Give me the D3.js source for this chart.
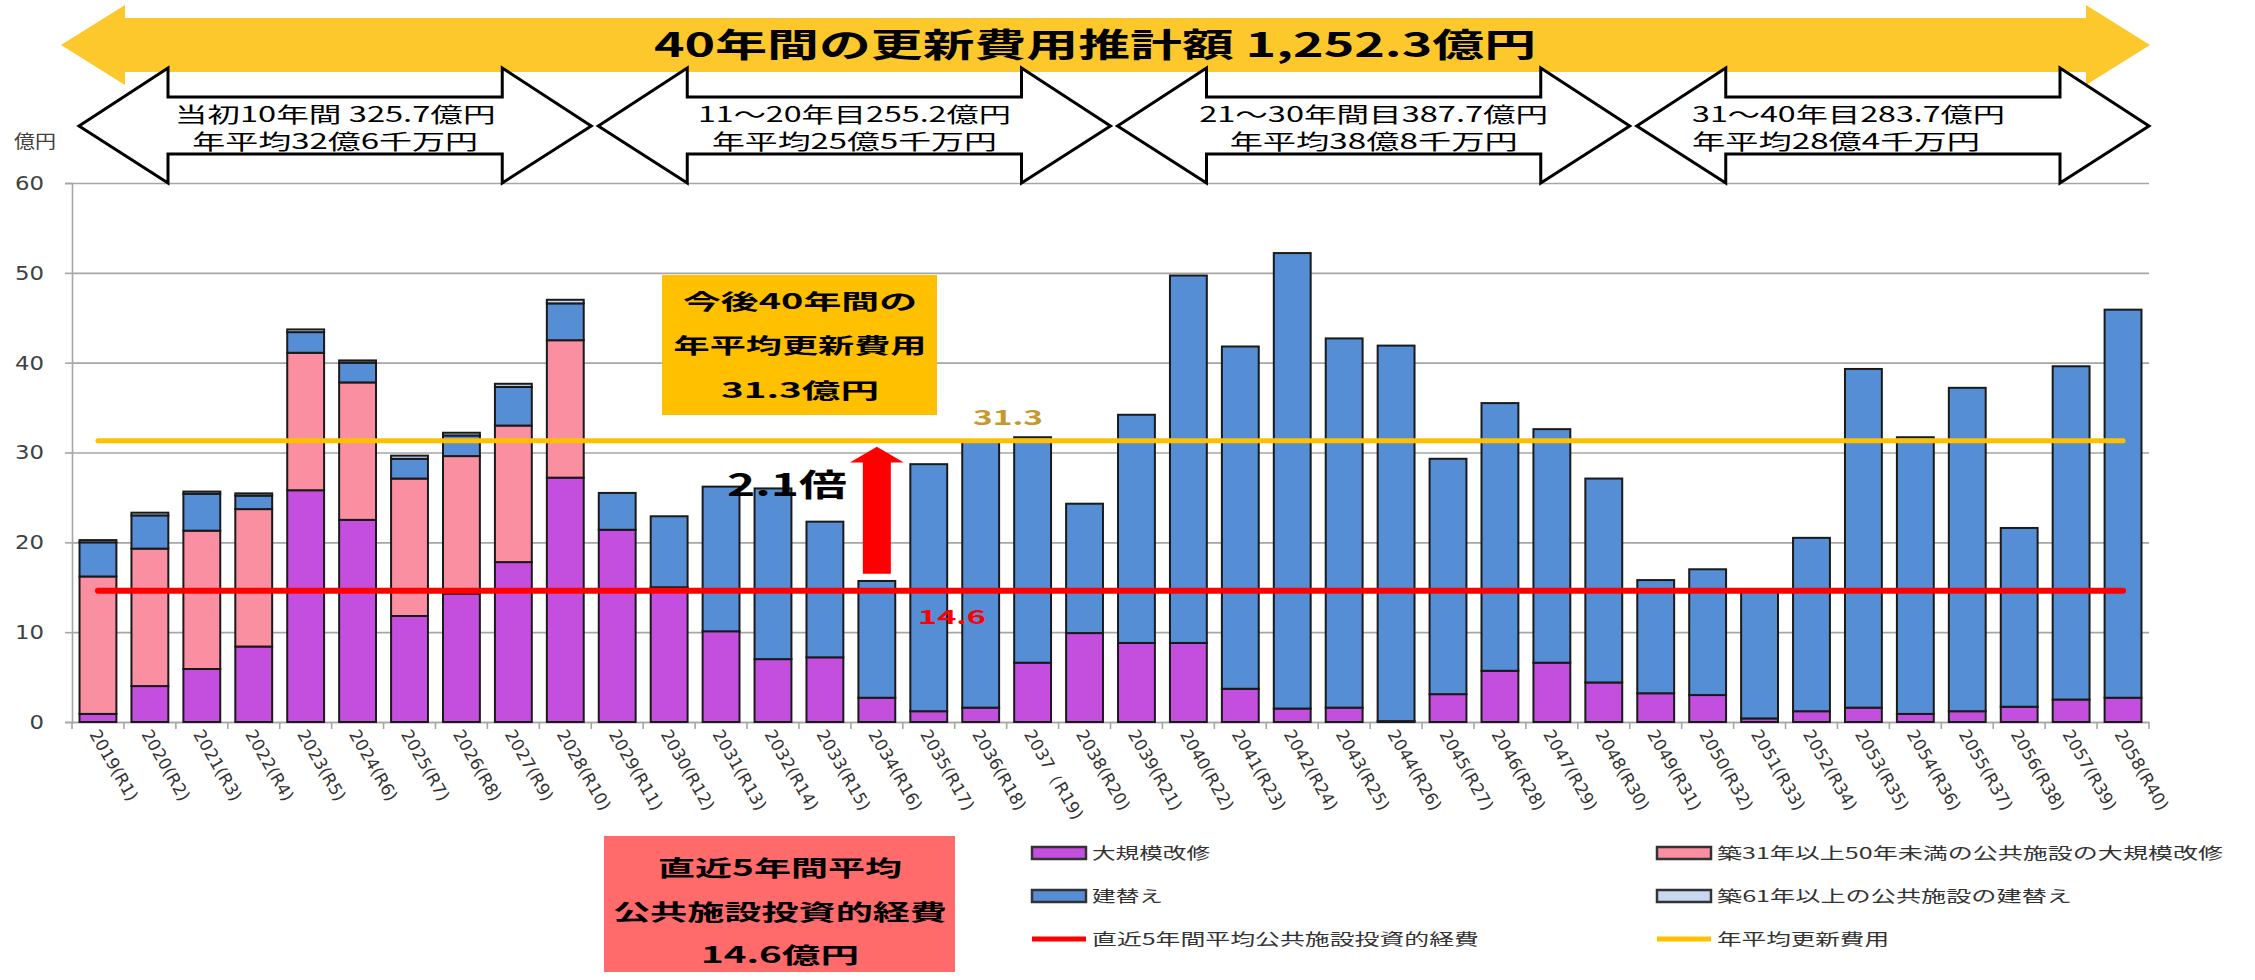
<!DOCTYPE html>
<html>
<head>
<meta charset="utf-8">
<script src="https://cdn.jsdelivr.net/npm/d3@7"></script>
<style>
  body { margin: 0; background: #fff; }
  text { font-family: "Noto Sans CJK JP", "Noto Sans", sans-serif; }
</style>
</head>
<body>
<div id="chart"></div>
<script>
// years on the x axis
var years = ["2019(R1)", "2020(R2)", "2021(R3)", "2022(R4)", "2023(R5)", "2024(R6)", "2025(R7)", "2026(R8)", "2027(R9)", "2028(R10)",
  "2029(R11)", "2030(R12)", "2031(R13)", "2032(R14)", "2033(R15)", "2034(R16)", "2035(R17)", "2036(R18)", "2037（R19)", "2038(R20)",
  "2039(R21)", "2040(R22)", "2041(R23)", "2042(R24)", "2043(R25)", "2044(R26)", "2045(R27)", "2046(R28)", "2047(R29)", "2048(R30)",
  "2049(R31)", "2050(R32)", "2051(R33)", "2052(R34)", "2053(R35)", "2054(R36)", "2055(R37)", "2056(R38)", "2057(R39)", "2058(R40)"];

// 大規模改修
var largeRepair = [0.9, 4.0, 5.9, 8.4, 25.8, 22.5, 11.8, 14.3, 17.8, 27.2,
  21.4, 15.0, 10.1, 7.0, 7.2, 2.7, 1.2, 1.6, 6.6, 9.9,
  8.8, 8.8, 3.7, 1.5, 1.6, 0.1, 3.1, 5.7, 6.6, 4.4,
  3.2, 3.0, 0.4, 1.2, 1.6, 0.9, 1.2, 1.7, 2.5, 2.7];
// 築31年以上50年未満の公共施設の大規模改修
var oldRepair = [15.3, 15.3, 15.4, 15.3, 15.3, 15.3, 15.3, 15.3, 15.2, 15.3,
  0, 0, 0, 0, 0, 0, 0, 0, 0, 0,
  0, 0, 0, 0, 0, 0, 0, 0, 0, 0,
  0, 0, 0, 0, 0, 0, 0, 0, 0, 0];
// 建替え
var rebuild = [3.8, 3.7, 4.1, 1.5, 2.3, 2.2, 2.2, 2.3, 4.3, 4.1,
  4.1, 7.9, 16.1, 19.0, 15.1, 13.0, 27.5, 29.6, 25.1, 14.4,
  25.4, 40.9, 38.1, 50.7, 41.1, 41.8, 26.2, 29.8, 26.0, 22.7,
  12.6, 14.0, 14.1, 19.3, 37.7, 30.8, 36.0, 19.9, 37.1, 43.2];
// 築61年以上の公共施設の建替え
var oldRebuild = [0.25, 0.3, 0.25, 0.25, 0.3, 0.25, 0.35, 0.3, 0.35, 0.4,
  0, 0, 0, 0, 0, 0, 0, 0, 0, 0,
  0, 0, 0, 0, 0, 0, 0, 0, 0, 0,
  0, 0, 0, 0, 0, 0, 0, 0, 0, 0];

var yTicks = [0, 10, 20, 30, 40, 50, 60];
var avgRenewal = 31.3;
var recentInvest = 14.6;
var ratio = "2.1倍";

var seriesKeys = ["largeRepair", "oldRepair", "rebuild", "oldRebuild"];
var seriesNames = ["大規模改修", "築31年以上50年未満の公共施設の大規模改修", "建替え", "築61年以上の公共施設の建替え"];
var seriesColors = ["#c44fdf", "#f98fa1", "#568ed6", "#c6d9f1"];

var titleText = "40年間の更新費用推計額 1,252.3億円";
var periodLine1 = ["当初10年間 325.7億円", "11～20年目255.2億円", "21～30年間目387.7億円", "31～40年目283.7億円"];
var periodLine2 = ["年平均32億6千万円", "年平均25億5千万円", "年平均38億8千万円", "年平均28億4千万円"];
var avgBoxLines = ["今後40年間の", "年平均更新費用", "31.3億円"];
var investBoxLines = ["直近5年間平均", "公共施設投資的経費", "14.6億円"];
var lineNames = ["直近5年間平均公共施設投資的経費", "年平均更新費用"];

var W = 2255, H = 980;

var svg = d3.select("#chart")
  .append("svg")
    .attr("width", W)
    .attr("height", H);

function fit(sel, len) {
  return sel.attr("textLength", len).attr("lengthAdjust", "spacingAndGlyphs");
}

var x = d3.scaleBand()
    .domain(years)
    .range([72, 2149])
    .paddingInner(0.29)
    .paddingOuter(0.145);
var y = d3.scaleLinear()
    .domain([0, 60])
    .range([722, 183]);
var bw = x.bandwidth();
var step = x.step();

// gridlines
svg.append("g")
    .attr("transform", "translate(72,0)")
    .call(d3.axisLeft(y).tickValues(yTicks).tickSize(-2077).tickFormat(""))
    .call(function (g) { g.select(".domain").remove(); })
    .selectAll(".tick line").attr("stroke", "#a6a6a6").attr("stroke-width", 1.6);

// y axis
var yAxis = svg.append("g")
    .attr("transform", "translate(72,0)")
    .call(d3.axisLeft(y).tickValues(yTicks).tickSize(7).tickPadding(21));
yAxis.select(".domain").attr("stroke", "#a6a6a6").attr("stroke-width", 1.6);
yAxis.selectAll(".tick line").attr("stroke", "#a6a6a6").attr("stroke-width", 1.6);
yAxis.selectAll(".tick text")
    .attr("fill", "#404040")
    .style("font-family", "DejaVu Sans")
    .style("font-size", "20px")
    .each(function (d) { fit(d3.select(this), String(d).length * 14.5); });

svg.append("text")
    .attr("x", 14).attr("y", 148)
    .attr("fill", "#404040")
    .style("font-size", "18px")
    .text("億円")
    .call(fit, 42);

// x axis
var xAxis = svg.append("g")
    .attr("transform", "translate(0,722)")
    .call(d3.axisBottom(x).tickSize(0).tickPadding(0));
xAxis.select(".domain").attr("stroke", "#a6a6a6").attr("stroke-width", 1.6);
xAxis.selectAll(".tick text")
    .attr("y", 0).attr("dy", 0)
    .attr("text-anchor", "start")
    .attr("transform", "translate(-9,12) rotate(60)")
    .attr("fill", "#333")
    .style("font-family", "DejaVu Sans")
    .style("font-size", "17px");
// boundary ticks
xAxis.selectAll(".btick")
    .data(d3.range(years.length + 1))
    .enter().append("line")
    .attr("x1", function (i) { return 72 + i * step; })
    .attr("x2", function (i) { return 72 + i * step; })
    .attr("y1", 0).attr("y2", 7)
    .attr("stroke", "#a6a6a6").attr("stroke-width", 1.6);

// stacked bars
var rows = years.map(function (yr, i) {
  return { year: yr, largeRepair: largeRepair[i], oldRepair: oldRepair[i], rebuild: rebuild[i], oldRebuild: oldRebuild[i] };
});
var stacked = d3.stack().keys(seriesKeys)(rows);

svg.append("g").selectAll("g")
    .data(stacked)
    .enter().append("g")
    .attr("fill", function (d, i) { return seriesColors[i]; })
  .selectAll("rect")
    .data(function (d) { return d.filter(function (p) { return p[1] - p[0] > 0; }); })
    .enter().append("rect")
    .attr("x", function (d) { return x(d.data.year); })
    .attr("y", function (d) { return y(d[1]); })
    .attr("width", bw)
    .attr("height", function (d) { return y(d[0]) - y(d[1]); })
    .attr("stroke", "#1a1a1a")
    .attr("stroke-width", 2);

// average lines
var xStart = x(years[0]) + bw / 2;
var xEnd = x(years[years.length - 1]) + bw / 2;
svg.append("line")
    .attr("x1", xStart).attr("x2", xEnd)
    .attr("y1", y(avgRenewal)).attr("y2", y(avgRenewal))
    .attr("stroke", "#ffc000").attr("stroke-width", 5).attr("stroke-linecap", "round");
svg.append("line")
    .attr("x1", xStart).attr("x2", xEnd)
    .attr("y1", y(recentInvest)).attr("y2", y(recentInvest))
    .attr("stroke", "#ff0000").attr("stroke-width", 6).attr("stroke-linecap", "round");

svg.append("text")
    .attr("x", 973).attr("y", y(avgRenewal) - 16)
    .attr("fill", "#c49a2c")
    .style("font-size", "20px").style("font-weight", "bold")
    .text(avgRenewal)
    .call(fit, 70);
svg.append("text")
    .attr("x", 918).attr("y", y(recentInvest) + 33)
    .attr("fill", "#ff0000")
    .style("font-size", "19px").style("font-weight", "bold")
    .text(recentInvest)
    .call(fit, 68);

// red up arrow
var ax = x("2034(R16)") + bw / 2;
var tipY = y(30.65), headY = y(28.9), baseY = y(16.5);
svg.append("path")
    .attr("d", "M" + ax + "," + tipY +
      "L" + (ax + 27) + "," + headY +
      "L" + (ax + 14) + "," + headY +
      "L" + (ax + 14) + "," + baseY +
      "L" + (ax - 14) + "," + baseY +
      "L" + (ax - 14) + "," + headY +
      "L" + (ax - 27) + "," + headY + "Z")
    .attr("fill", "#ff0000");

svg.append("text")
    .attr("x", 727).attr("y", 496)
    .attr("fill", "#000")
    .style("font-size", "31px").style("font-weight", "bold")
    .text(ratio)
    .call(fit, 120);

// average box
svg.append("rect")
    .attr("x", 662).attr("y", 275).attr("width", 275).attr("height", 140)
    .attr("fill", "#ffc000");
var boxW = [234, 253, 158];
var boxB = [309, 353, 398];
avgBoxLines.forEach(function (t, i) {
  svg.append("text")
      .attr("x", 800).attr("y", boxB[i])
      .attr("text-anchor", "middle")
      .style("font-size", "21px").style("font-weight", "bold")
      .text(t)
      .call(fit, boxW[i]);
});

// big yellow double arrow
function dblArrow(xl, xr, head, yc, hTop, hBot, bTop, bBot) {
  return "M" + xl + "," + yc +
    "L" + (xl + head) + "," + hTop +
    "L" + (xl + head) + "," + bTop +
    "L" + (xr - head) + "," + bTop +
    "L" + (xr - head) + "," + hTop +
    "L" + xr + "," + yc +
    "L" + (xr - head) + "," + hBot +
    "L" + (xr - head) + "," + bBot +
    "L" + (xl + head) + "," + bBot +
    "L" + (xl + head) + "," + hBot + "Z";
}
svg.append("path")
    .attr("d", dblArrow(61, 2150, 64, 45, 5, 85, 18, 72))
    .attr("fill", "#fdc82c");
svg.append("text")
    .attr("x", 654).attr("y", 57)
    .style("font-size", "33px").style("font-weight", "bold")
    .text(titleText)
    .call(fit, 882);

// period arrows
var l1W = [321, 313, 349, 313];
var l2W = [286, 285, 288, 288];
periodLine1.forEach(function (t, k) {
  var xl = x(years[k * 10]) - (step - bw) / 2 + 7;
  var xr = x(years[k * 10 + 9]) + bw + (step - bw) / 2;
  svg.append("path")
      .attr("d", dblArrow(xl, xr, 89, 126, 68, 183, 97, 154))
      .attr("fill", "#fff").attr("stroke", "#000").attr("stroke-width", 3)
      .attr("stroke-linejoin", "miter");
  var cx = (xl + xr) / 2;
  var last = k === 3;
  svg.append("text")
      .attr("x", last ? 1692 : cx).attr("y", 122)
      .attr("text-anchor", last ? "start" : "middle")
      .style("font-size", "21px")
      .text(t)
      .call(fit, l1W[k]);
  svg.append("text")
      .attr("x", last ? 1692 : cx).attr("y", 149)
      .attr("text-anchor", last ? "start" : "middle")
      .style("font-size", "21px")
      .text(periodLine2[k])
      .call(fit, l2W[k]);
});

// investment box
svg.append("rect")
    .attr("x", 604).attr("y", 836).attr("width", 351).attr("height", 136)
    .attr("fill", "#ff6b6b");
var invW = [244, 334, 158];
var invB = [876, 920, 963];
investBoxLines.forEach(function (t, i) {
  svg.append("text")
      .attr("x", 780).attr("y", invB[i])
      .attr("text-anchor", "middle")
      .style("font-size", "22px").style("font-weight", "bold")
      .text(t)
      .call(fit, invW[i]);
});

// legend
var legendItems = [
  { name: seriesNames[0], kind: "rect", color: seriesColors[0], col: 0, row: 0, w: 118 },
  { name: seriesNames[1], kind: "rect", color: seriesColors[1], col: 1, row: 0, w: 506 },
  { name: seriesNames[2], kind: "rect", color: seriesColors[2], col: 0, row: 1, w: 71 },
  { name: seriesNames[3], kind: "rect", color: seriesColors[3], col: 1, row: 1, w: 355 },
  { name: lineNames[0], kind: "line", color: "#ff0000", col: 0, row: 2, w: 387 },
  { name: lineNames[1], kind: "line", color: "#ffc000", col: 1, row: 2, w: 172 }
];
var colX = [1032, 1657];
var rowY = [853, 896, 939];
legendItems.forEach(function (d) {
  var lx = colX[d.col], ly = rowY[d.row];
  if (d.kind === "rect") {
    svg.append("rect")
        .attr("x", lx).attr("y", ly - 6).attr("width", 54).attr("height", 12)
        .attr("fill", d.color).attr("stroke", "#333").attr("stroke-width", 2.5);
  } else {
    svg.append("line")
        .attr("x1", lx).attr("x2", lx + 54).attr("y1", ly).attr("y2", ly)
        .attr("stroke", d.color).attr("stroke-width", 5);
  }
  svg.append("text")
      .attr("x", lx + 60).attr("y", ly + 6)
      .attr("fill", "#333")
      .style("font-size", "16px")
      .text(d.name)
      .call(fit, d.w);
});
</script>
</body>
</html>
